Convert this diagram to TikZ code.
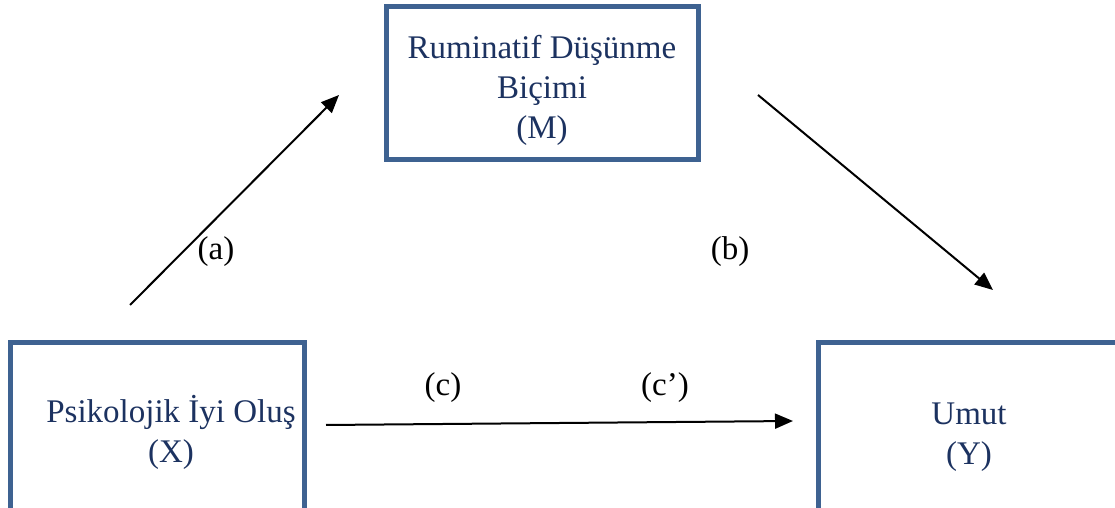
\documentclass[tikz,border=0pt]{standalone}
\usepackage{fontspec}
\setmainfont{Liberation Serif}
\usetikzlibrary{arrows.meta,positioning,calc}
\definecolor{boxblue}{RGB}{62,98,145}
\definecolor{textnavy}{RGB}{28,50,96}
\tikzset{
    % --- Variable box (X, M, Y) ---
    var box/.style = {
        rectangle, draw=boxblue, line width=5pt,
        font=\fontsize{33}{40}\selectfont, text=textnavy,
        align=center, inner sep=0pt
    },
    % --- Path label (a), (b), ... ---
    path label/.style = {
        font=\fontsize{33}{40}\selectfont
    },
    % --- Path arrow ---
    path arrow/.style = {
        -{Triangle[length=18pt,width=15pt]}, line width=2pt
    }
}

\begin{document}
\begin{tikzpicture}[x=1pt, y=1pt]

\useasboundingbox (0,0) rectangle (1115,508);
\clip (0,0) rectangle (1115,508);

% ---------------------------------------------------------
% Variables
% ---------------------------------------------------------
\node[var box, minimum width=312pt, minimum height=153pt] (Med) at (542,424.5)
    {\rule{0pt}{38pt}Ruminatif Düşünme\\Biçimi\\(M)};
\node[var box, minimum width=294pt, minimum height=178pt] (Pred) at (157,76)
    {\hspace*{28pt}Psikolojik İyi Oluş\\\hspace*{28pt}(X)};
\node[var box, minimum width=302pt, minimum height=189pt] (Out) at (969,70.5)
    {Umut\\(Y)};

% ---------------------------------------------------------
% Arrow ends
% ---------------------------------------------------------
\coordinate (a_from) at (130,203);
\coordinate (a_to)   at (339,413);
\coordinate (b_from) at (758,413);
\coordinate (b_to)   at (993,218);
\coordinate (c_from) at (326,83);
\coordinate (c_to)   at (793,87);

\draw[path arrow] (a_from) -- (a_to);
\draw[path arrow] (b_from) -- (b_to);
\draw[path arrow] (c_from) -- (c_to);

% ---------------------------------------------------------
% Path labels
% ---------------------------------------------------------
\node[path label] (LabA)  at (216,256) {(a)};
\node[path label] (LabB)  at (730,256) {(b)};
\node[path label] (LabC)  at (443,120) {(c)};
\node[path label] (LabCp) at (665,120) {(c’)};

\end{tikzpicture}
\end{document}
